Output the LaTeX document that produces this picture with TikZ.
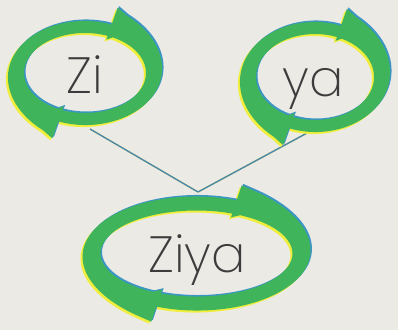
\documentclass[tikz,border=0pt]{standalone}
\usepackage{fontspec}
\IfFontExistsTF{Poppins ExtraLight}
  {\newfontfamily\labelfont{Poppins ExtraLight}}
  {\newfontfamily\labelfont{Poppins Light}}
\definecolor{paper}{RGB}{236,234,229}
\definecolor{ringgreen}{RGB}{64,180,90}
\definecolor{ringblue}{RGB}{60,150,195}
\definecolor{ringyellow}{RGB}{240,238,60}
\definecolor{linkblue}{RGB}{75,135,175}
\definecolor{inkgrey}{RGB}{60,60,60}

% one half of a cycle ring: cx, cy, x radius, y radius, start angle, min width
\newcommand{\cyclehalf}[6]{%
  ({#1+(#3-4)*cos(#5+5)},{#2+(#4-4)*sin(#5+5)})
  -- ({#1+(#3+30)*cos(#5+6)},{#2+(#4+30)*sin(#5+6)})
  -- plot[variable=\u,domain=0.011:0.999,samples=45,smooth]
     ({#1+(#3+hw(\u,#6))*cos(#5-180*\u)},{#2+(#4+hw(\u,#6))*sin(#5-180*\u)})
  -- ({#1+#3*cos(#5-180)},{#2+#4*sin(#5-180)})
  arc[start angle={#5-180},end angle={#5},x radius=#3,y radius=#4]
  -- cycle}

% the whole ring, with its yellow and blue edges
\newcommand{\cyclering}[5]{%
  \foreach \col/\dx/\dy in {ringyellow/-2/-2,ringblue/1.5/1.5,ringgreen/0/0}{
    \fill[\col,shift={(\dx,\dy)}] \cyclehalf{#1}{#2}{#3}{#4}{63}{#5}
      \cyclehalf{#1}{#2}{#3}{#4}{243}{#5};
  }}

\begin{document}
\begin{tikzpicture}[
  x=1pt,y=1pt,
  declare function={hw(\u,\m)=\m+14*(1-\u)*(1-\u)*(1-\u);},
  word/.style={font=\labelfont\fontsize{51}{51}\selectfont,text=inkgrey,inner sep=0pt,anchor=base},
  link/.style={linkblue,line width=1.4pt},
  linkshadow/.style={ringyellow,line width=1.4pt}
]
\useasboundingbox (0,0) rectangle (398,330);
\fill[paper] (0,0) rectangle (398,330);

% connectors, behind the rings
\coordinate (zi-foot) at (90,201);
\coordinate (ya-foot) at (309,198);
\coordinate (ziya-top) at (198,138);
\draw[linkshadow,shift={(-1,-1)}] (zi-foot) -- (ziya-top) -- (ya-foot);
\draw[link] (zi-foot) -- (ziya-top);
\draw[link] (ya-foot) -- (ziya-top);

% rings
\cyclering{85}{257}{61}{40}{12}
\cyclering{315}{253}{59}{43}{12}
\cyclering{196.5}{76.5}{96}{43}{14}

% words
\node[word] (zi) at (85,237) {Zi};
\node[word] (ya) at (313,234) {ya};
\node[word] (ziya) at (197,58) {Ziya};
\end{tikzpicture}
\end{document}
